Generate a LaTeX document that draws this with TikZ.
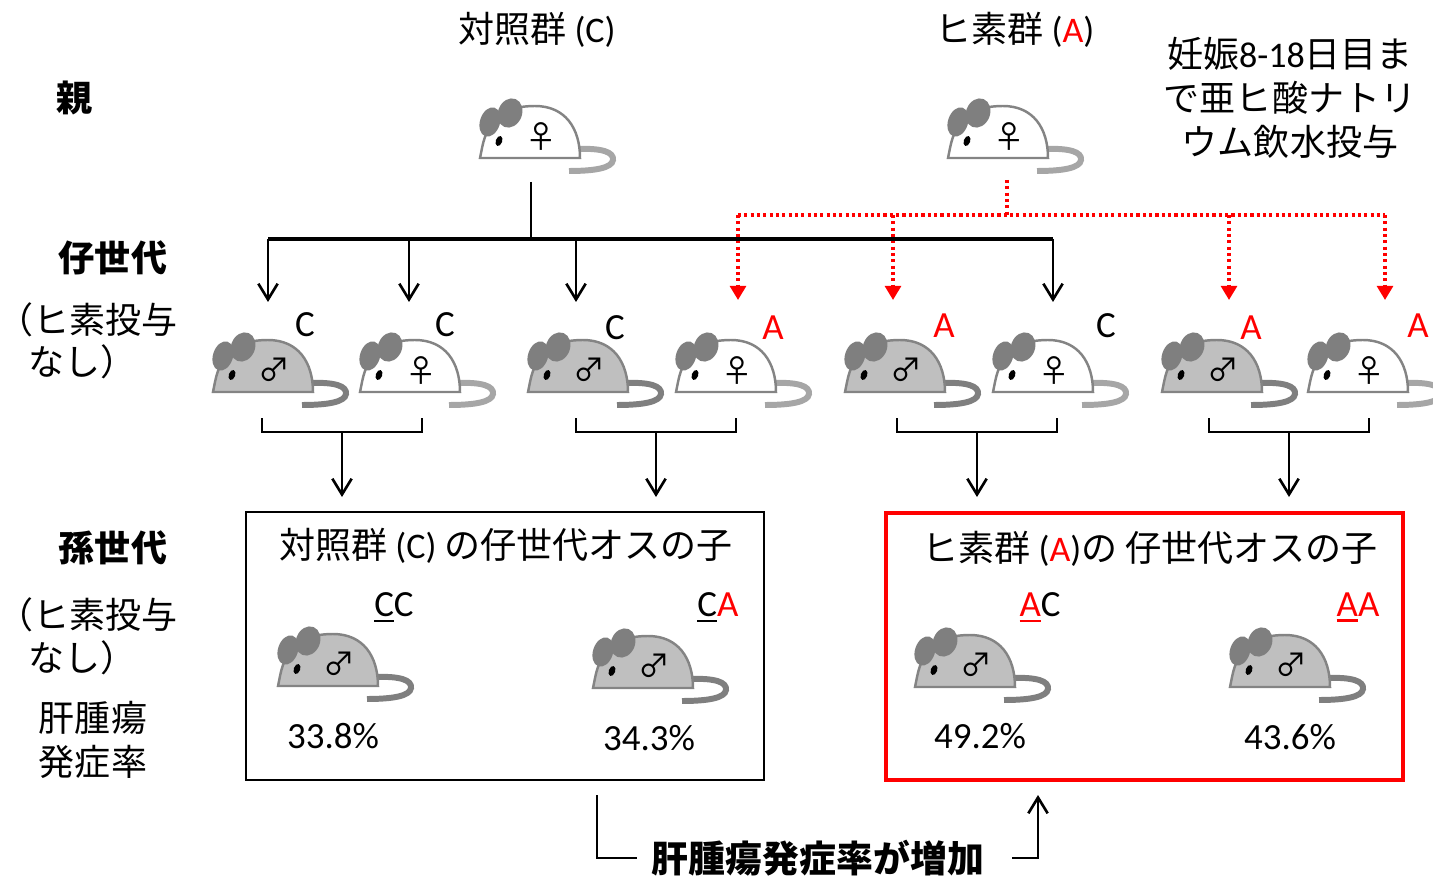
\documentclass[tikz,border=0pt]{standalone}
\usepackage{fontspec}
\setmainfont{Noto Sans CJK JP}
\newfontfamily\lat{Carlito}
\usetikzlibrary{arrows.meta, calc}

\definecolor{earfill}{RGB}{127,127,127}
\definecolor{mouseline}{RGB}{132,132,132}
\definecolor{malefill}{RGB}{191,191,191}
\definecolor{maletail}{RGB}{127,127,127}
\definecolor{femtail}{RGB}{166,166,166}

% underlined letter, rule in the current colour
\newcommand{\undl}[1]{\setbox0\hbox{#1}\rlap{\rule[-3.2pt]{\wd0}{1.3pt}}\box0}
\newcommand{\cA}{{\lat\color{red}A}}
\newcommand{\cC}{{\lat C}}

\tikzset{
  txt/.style={font=\fontsize{20.5}{25}\selectfont, inner sep=0pt},
  head/.style={font=\fontsize{20.5}{25}\selectfont\bfseries, inner sep=0pt},
  lbl/.style={font=\fontsize{21}{25}\selectfont\lat, inner sep=0pt},
  sexsym/.style={font=\fontsize{18}{18}\selectfont, inner sep=0pt},
  arr/.style={line width=1.5pt, -{Straight Barb[length=9pt, width=11pt]}},
  reddot/.style={red, line width=1.9pt, dash pattern=on 1.8pt off 1.8pt},
  redarr/.style={reddot, -{Triangle[length=8pt, width=9pt]}},
  % mouse: body fill, tail colour, sex symbol; origin = bottom left of the body
  pics/mouse/.style n args={3}{code={
    \draw[#2, line width=3.4pt] (97,-9) .. controls (122,-10) and (134,-6) .. (133,2)
      .. controls (132,10) and (115,13) .. (89,13);
    \draw[draw=mouseline, fill=#1, line width=1.4pt] (0,0) -- (2,-10)
      .. controls (8,-40) and (25,-52) .. (55,-52)
      .. controls (85,-52) and (100,-30) .. (100,0) -- cycle;
    \fill[earfill, shift={(10,-36)}, rotate=-18] (0,0) ellipse [x radius=10, y radius=15];
    \fill[earfill, shift={(30,-45)}, rotate=-22] (0,0) ellipse [x radius=12, y radius=15];
    \fill[shift={(19,-17)}, rotate=-20] (0,0) ellipse [x radius=3.2, y radius=5.2];
    \node[sexsym] (-sex) at (61,-22) {#3};
  }}
}

\begin{document}
\begin{tikzpicture}[x=0.02cm, y=-0.02cm]
\useasboundingbox (0,0) rectangle (1433,878);

% generation labels
\node[head] (lvP) at (75,98) {親};
\node[head] (lvF1) at (113,258) {仔世代};
\node[txt, anchor=west] (noAsF1) at (-3,320) {（ヒ素投与};
\node[txt, anchor=west] (noAsF1b) at (28,362) {なし）};
\node[head] (lvF2) at (113,548) {孫世代};
\node[txt, anchor=west] (noAsF2) at (-3,615) {（ヒ素投与};
\node[txt, anchor=west] (noAsF2b) at (28,658) {なし）};
\node[txt] (rate1) at (93,718) {肝腫瘍};
\node[txt] (rate2) at (93,762) {発症率};

% parents
\node[txt] (ctrl) at (537,30) {対照群 {\lat (C)}};
\node[txt] (ars) at (1015,30) {ヒ素群 {\lat (\textcolor{red}{A})}};
\node[txt, align=center] (dose) at (1290,98) {妊娠{\lat 8-18}日目ま\\で亜ヒ酸ナトリ\\ウム飲水投与};
\pic (pc) at (480,158) {mouse={white}{femtail}{♀}};
\pic (pa) at (948,158) {mouse={white}{femtail}{♀}};

% offspring
\pic (k1) at (213,392) {mouse={malefill}{maletail}{♂}};
\pic (k2) at (360,392) {mouse={white}{femtail}{♀}};
\pic (k3) at (528,392) {mouse={malefill}{maletail}{♂}};
\pic (k4) at (676,392) {mouse={white}{femtail}{♀}};
\pic (k5) at (845,392) {mouse={malefill}{maletail}{♂}};
\pic (k6) at (993,392) {mouse={white}{femtail}{♀}};
\pic (k7) at (1162,392) {mouse={malefill}{maletail}{♂}};
\pic (k8) at (1308,392) {mouse={white}{femtail}{♀}};
\node[lbl] (k1lab) at (305,325) {\cC};
\node[lbl] (k2lab) at (445,325) {\cC};
\node[lbl] (k3lab) at (615,328) {\cC};
\node[lbl] (k4lab) at (773,328) {\cA};
\node[lbl] (k5lab) at (944,326) {\cA};
\node[lbl] (k6lab) at (1106,326) {\cC};
\node[lbl] (k7lab) at (1251,328) {\cA};
\node[lbl] (k8lab) at (1418,326) {\cA};

% arsenic line (dotted) under the control line
\coordinate (pafoot) at (1007,180);
\coordinate (abus) at (1007,215);
\coordinate (k4top) at (738,300);
\coordinate (k5top) at (893,300);
\coordinate (k7top) at (1229,300);
\coordinate (k8top) at (1385,300);
\draw[reddot] (pafoot) -- (abus);
\draw[reddot] (k4top |- abus) -- (k8top |- abus);
\foreach \t in {k4top,k5top,k7top,k8top}
  \draw[redarr] (\t |- abus) -- (\t);

% control line
\coordinate (pcfoot) at (531,182);
\coordinate (cbus) at (531,239);
\coordinate (k1top) at (268,302);
\coordinate (k2top) at (409,302);
\coordinate (k3top) at (576,302);
\coordinate (k6top) at (1053,302);
\draw[line width=1.6pt] (pcfoot) -- (cbus);
\draw[line width=1.8pt] (k1top |- cbus) -- (k6top |- cbus);
\foreach \t in {k1top,k2top,k3top,k6top}
  \draw[arr] (\t |- cbus) -- (\t);

% pairs -> grandchildren
\foreach \i/\x in {1/342,2/656,3/977,4/1289}{
  \coordinate (br\i) at (\x,432);
  \coordinate (gt\i) at (\x,497);
  \draw[line width=1.5pt] ($(br\i)+(-80,-14)$) |- ($(br\i)+(80,0)$) -- ++(0,-14);
  \draw[arr] (br\i) -- (gt\i);
}

% grandchildren boxes
\node[draw, line width=1.5pt, minimum width=10.36cm, minimum height=5.36cm] (cbox) at (505,646) {};
\node[draw=red, line width=2.5pt, minimum width=10.34cm, minimum height=5.34cm] (abox) at (1144.5,646.5) {};
\node[txt] (ctitle) at (506,546) {対照群 {\lat (C)} の仔世代オスの子};
\node[txt] (atitle) at (1150,549) {ヒ素群 {\lat (\textcolor{red}{A})}の 仔世代オスの子};

\pic (g1) at (278,686) {mouse={malefill}{maletail}{♂}};
\pic (g2) at (593,688) {mouse={malefill}{maletail}{♂}};
\pic (g3) at (915,687) {mouse={malefill}{maletail}{♂}};
\pic (g4) at (1230,687) {mouse={malefill}{maletail}{♂}};
\node[lbl] (g1lab) at (394,607) {\undl{C}C};
\node[lbl] (g2lab) at (718,607) {\undl{C}\textcolor{red}{A}};
\node[lbl] (g3lab) at (1040,607) {{\color{red}\undl{A}}C};
\node[lbl] (g4lab) at (1358,607) {\color{red}\undl{A}A};
\node[lbl] (g1pct) at (333,736) {33.8\%};
\node[lbl] (g2pct) at (649,738) {34.3\%};
\node[lbl] (g3pct) at (980,736) {49.2\%};
\node[lbl] (g4pct) at (1290,737) {43.6\%};

% increase note
\node[head, font=\fontsize{21}{25}\selectfont\bfseries] (incr) at (818,858) {肝腫瘍発症率が増加};
\coordinate (upL) at (597,795);
\coordinate (incL) at (637,858);
\coordinate (incR) at (1012,858);
\coordinate (upR) at (1038,795);
\draw[line width=1.5pt] (upL) |- (incL);
\draw[arr] (incR) -| (upR);
\end{tikzpicture}
\end{document}
